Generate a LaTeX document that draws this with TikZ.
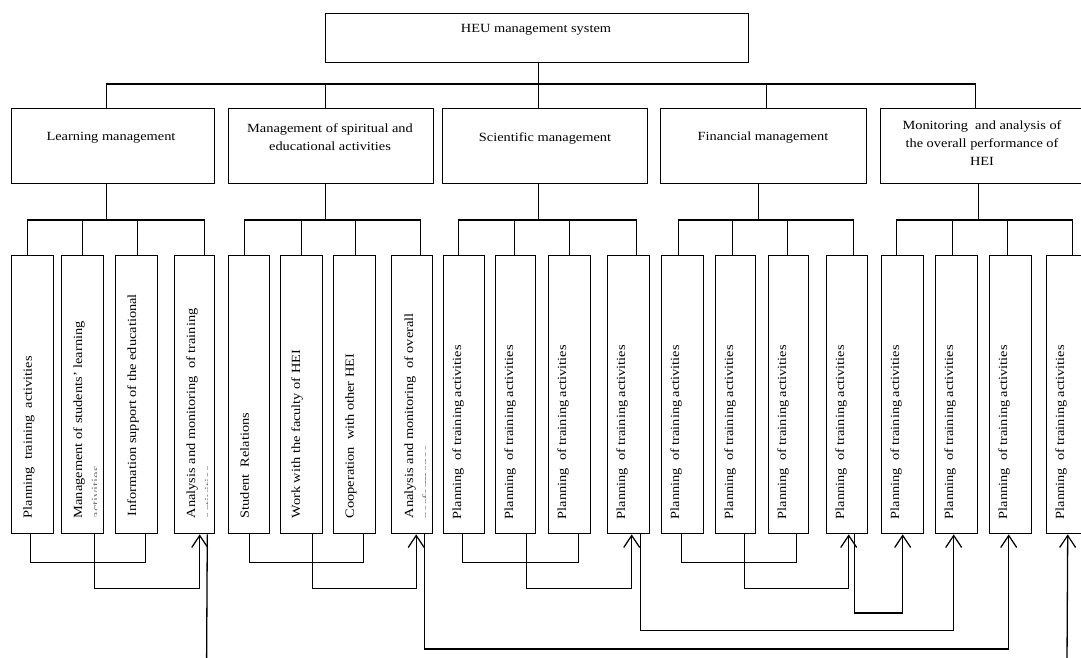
\documentclass[tikz,border=0pt]{standalone}
\usepackage{fontspec}
\setmainfont{Liberation Serif}[FakeStretch=1.15]
\usetikzlibrary{arrows.meta}
\begin{document}
\begin{tikzpicture}[x=1pt,y=-1pt,
  box/.style={draw, line width=1.4pt, inner sep=0pt, anchor=north west, minimum height=75pt},
  leaf/.style={draw, line width=1.4pt, inner sep=0pt, anchor=north west, minimum height=278pt},
  txt/.style={inner sep=0pt, align=center, font=\fontsize{12.5}{18}\selectfont},
  ltxt/.style={inner sep=0pt, align=left, rotate=90, anchor=north west, font=\fontsize{12.5}{18}\selectfont},
  con/.style={line width=1.3pt},
  arr/.style={con, -{Straight Barb[length=12pt,width=16pt,line width=1.2pt]}},
  faint/.style={black!55}
]
\useasboundingbox (0,0) rectangle (1081,657);
\clip (0,0) rectangle (1081,657);

% top
\node[box, minimum width=423pt, minimum height=49pt] (top) at (325,13) {};
\node[txt] (ttop) at (536,30) {HEU management system};

% level 2
\node[box, minimum width=203pt] (b1) at (11,108) {};
\node[box, minimum width=205pt] (b2) at (228,108) {};
\node[box, minimum width=205pt] (b3) at (442,108) {};
\node[box, minimum width=206pt] (b4) at (660,108) {};
\node[box, minimum width=203pt] (b5) at (880,108) {};
\node[txt] (t1) at (111,138) {Learning management};
\node[txt] (t2) at (330,137) {Management of spiritual and\\educational activities};
\node[txt] (t3) at (545,138) {Scientific management};
\node[txt] (t4) at (763,138) {Financial management};
\node[txt] (t5) at (982,143) {Monitoring\ \ and analysis of\\the overall performance of\\HEI};

% leaves
\node[leaf, minimum width=42pt] (l1) at (11,255) {};
\node[leaf, minimum width=42pt] (l2) at (61,255) {};
\node[leaf, minimum width=42pt] (l3) at (115,255) {};
\node[leaf, minimum width=40pt] (l4) at (174,255) {};
\node[leaf, minimum width=41pt] (l5) at (228,255) {};
\node[leaf, minimum width=42pt] (l6) at (280,255) {};
\node[leaf, minimum width=42pt] (l7) at (333,255) {};
\node[leaf, minimum width=41pt] (l8) at (391,255) {};
\node[leaf, minimum width=41pt] (l9) at (443,255) {};
\node[leaf, minimum width=40pt] (l10) at (495,255) {};
\node[leaf, minimum width=42pt] (l11) at (548,255) {};
\node[leaf, minimum width=42pt] (l12) at (607,255) {};
\node[leaf, minimum width=42pt] (l13) at (661,255) {};
\node[leaf, minimum width=40pt] (l14) at (715,255) {};
\node[leaf, minimum width=40pt] (l15) at (768,255) {};
\node[leaf, minimum width=41pt] (l16) at (826,255) {};
\node[leaf, minimum width=42pt] (l17) at (881,255) {};
\node[leaf, minimum width=42pt] (l18) at (935,255) {};
\node[leaf, minimum width=42pt] (l19) at (989,255) {};
\node[leaf, minimum width=42pt] (l20) at (1046,255) {};

% leaf texts
\node[ltxt] (x1) at ([xshift=12pt,yshift=16pt]l1.south west) {Planning\ \ training\ \ activities};
\begin{scope}
\clip (l2.south west) rectangle ([xshift=-8pt]l2.north east);
\node[ltxt] (x2) at ([xshift=12pt,yshift=16pt]l2.south west) {Management of students' learning\\\textcolor{black!55}{activities}};
\end{scope}
\node[ltxt] (x3) at ([xshift=12pt,yshift=18pt]l3.south west) {Information support of the educational};
\begin{scope}
\clip (l4.south west) rectangle ([xshift=-8pt]l4.north east);
\node[ltxt] (x4) at ([xshift=12pt,yshift=16pt]l4.south west) {Analysis and monitoring\ \ of training\\\textcolor{black!55}{activities}};
\end{scope}
\node[ltxt] (x5) at ([xshift=12pt,yshift=16pt]l5.south west) {Student\ \ Relations};
\node[ltxt] (x6) at ([xshift=11pt,yshift=16pt]l6.south west) {Work with the faculty of HEI};
\node[ltxt] (x7) at ([xshift=12pt,yshift=16pt]l7.south west) {Cooperation\ \ with other HEI};
\begin{scope}
\clip (l8.south west) rectangle ([xshift=-8pt]l8.north east);
\node[ltxt] (x8) at ([xshift=13pt,yshift=16pt]l8.south west) {Analysis and monitoring\ \ of overall\\\textcolor{black!55}{performance}};
\end{scope}
\foreach \i in {9,...,20} {
  \node[ltxt] (x\i) at ([xshift=9pt,yshift=15pt]l\i.south west) {Planning\ \ of training activities};
}

% top connectors
\draw[con] ([xshift=1.5pt]top.south) -- ([xshift=-6.5pt]b3.north);
\draw[con] ([xshift=-6.5pt]b1.north) -- ++(0,-24) -| ([xshift=-6.5pt]b5.north);
\draw[con] ([xshift=-5.5pt]b2.north) -- ++(0,-24);
\draw[con] ([xshift=3pt]b4.north) -- ++(0,-24);

% level 2 -> leaves
\draw[con] ([xshift=-6.5pt]b1.south) -- ++(0,37);
\draw[con] ([xshift=-5pt]l1.north) -- ++(0,-35) -| ([xshift=10pt]l4.north);
\draw[con] (l2.north) -- ++(0,-35);
\draw[con] ([xshift=1pt]l3.north) -- ++(0,-35);

\draw[con] ([xshift=-5.5pt]b2.south) -- ++(0,37);
\draw[con] ([xshift=-5pt]l5.north) -- ++(0,-35) -| ([xshift=8.5pt]l8.north);
\draw[con] (l6.north) -- ++(0,-35);
\draw[con] ([xshift=0.7pt]l7.north) -- ++(0,-35);

\draw[con] ([xshift=-6.5pt]b3.south) -- ++(0,37);
\draw[con] ([xshift=-5.5pt]l9.north) -- ++(0,-35) -| ([xshift=8pt]l12.north);
\draw[con] ([xshift=-1pt]l10.north) -- ++(0,-35);
\draw[con] (l11.north) -- ++(0,-35);

\draw[con] ([xshift=-5.5pt]b4.south) -- ++(0,37);
\draw[con] ([xshift=-4pt]l13.north) -- ++(0,-35) -| ([xshift=6.5pt]l16.north);
\draw[con] ([xshift=-3pt]l14.north) -- ++(0,-35);
\draw[con] ([xshift=-1pt]l15.north) -- ++(0,-35);

\draw[con] ([xshift=-3.5pt]b5.south) -- ++(0,37);
\draw[con] ([xshift=-6pt]l17.north) -- ++(0,-35) -| ([xshift=5pt]l20.north);
\draw[con] ([xshift=-4.5pt]l18.north) -- ++(0,-35);
\draw[con] ([xshift=-3.4pt]l19.north) -- ++(0,-35);

% bottom connectors
\draw[con] ([xshift=-2pt]l1.south) -- ++(0,28) -| ([xshift=9pt]l3.south);
\draw[arr] ([xshift=12pt]l2.south) -- ++(0,54) -| ([xshift=5pt]l4.south);
\coordinate (out4) at (206.6,662);
\draw[con] ([xshift=12.6pt]l4.south) -- (out4);

\draw[con] (l5.south) -- ++(0,28) -| ([xshift=9pt]l7.south);
\draw[arr] ([xshift=10.6pt]l6.south) -- ++(0,54) -| ([xshift=4pt]l8.south);
\draw[arr] ([xshift=12pt]l8.south) -- ++(0,114.7) -| ([xshift=-2pt]l19.south);

\draw[con] ([xshift=-1.5pt]l9.south) -- ++(0,28) -| ([xshift=9pt]l11.south);
\draw[arr] ([xshift=11pt]l10.south) -- ++(0,54) -| ([xshift=3pt]l12.south);
\draw[arr] ([xshift=12pt]l12.south) -- ++(0,96) -| ([xshift=-3pt]l18.south);

\draw[con] ([xshift=-1pt]l13.south) -- ++(0,28) -| ([xshift=8pt]l15.south);
\draw[arr] ([xshift=9pt]l14.south) -- ++(0,54) -| ([xshift=1.5pt]l16.south);
\draw[arr] ([xshift=7.5pt]l16.south) -- ++(0,78.5) -| (l17.south);

\coordinate (in20) at (1067,662);
\draw[arr] (in20) -- (l20.south);
\end{tikzpicture}
\end{document}
